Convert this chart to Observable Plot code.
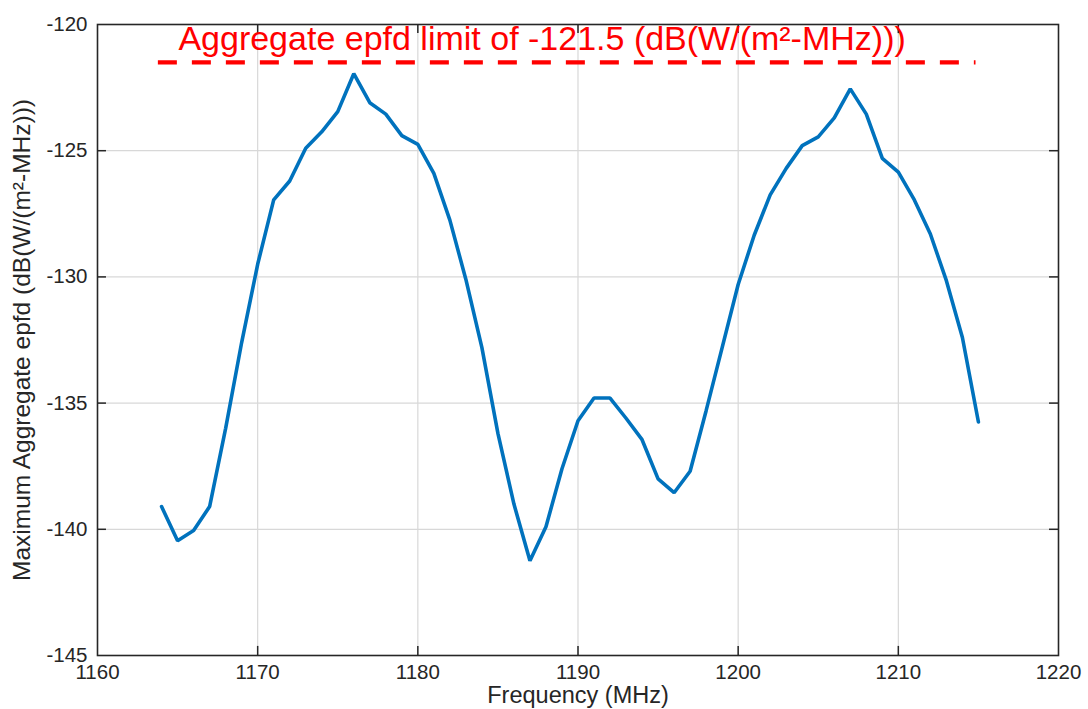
<!DOCTYPE html>
<html>
<head>
<meta charset="utf-8">
<script src="https://cdn.jsdelivr.net/npm/d3@7"></script>
<script src="https://cdn.jsdelivr.net/npm/@observablehq/plot@0.6"></script>
<style>
  html, body { margin: 0; padding: 0; background: #fff; }
  #chart svg { display: block; }
</style>
</head>
<body>
<div id="chart"></div>
<script>
// Frequencies (MHz)
const freqs = [1164, 1165, 1166, 1167, 1168, 1169, 1170, 1171, 1172, 1173, 1174, 1175, 1176, 1177, 1178, 1179,
  1180, 1181, 1182, 1183, 1184, 1185, 1186, 1187, 1188, 1189, 1190, 1191, 1192, 1193, 1194, 1195,
  1196, 1197, 1198, 1199, 1200, 1201, 1202, 1203, 1204, 1205, 1206, 1207, 1208, 1209, 1210, 1211,
  1212, 1213, 1214, 1215];
// Maximum aggregate epfd (dB(W/(m2-MHz)))
const epfd = [-139.1, -140.45, -140.05, -139.1, -136.0, -132.6, -129.5, -126.95, -126.2, -124.9, -124.25, -123.45, -121.95, -123.1, -123.55, -124.4,
  -124.75, -125.9, -127.75, -130.1, -132.8, -136.2, -139.0, -141.25, -139.9, -137.6, -135.7, -134.8, -134.8, -135.6, -136.45, -138.0,
  -138.55, -137.7, -135.3, -132.8, -130.3, -128.35, -126.75, -125.7, -124.8, -124.45, -123.7, -122.55, -123.55, -125.3, -125.85, -126.95,
  -128.3, -130.15, -132.4, -135.75];
const limitValue = -121.5;
const limitRange = [1163.8, 1214.85];
const limitLabel = "Aggregate epfd limit of -121.5 (dB(W/(m²-MHz)))";
const xTicks = [1160, 1170, 1180, 1190, 1200, 1210, 1220];
const yTicks = [-145, -140, -135, -130, -125, -120];
const xLabel = "Frequency (MHz)";
const yLabel = "Maximum Aggregate epfd (dB(W/(m²-MHz)))";

const data = freqs.map((f, i) => ({f, v: epfd[i]}));
const innerX = xTicks.slice(1, -1);
const innerY = yTicks.slice(1, -1);
const ink = "#262626";
const tickLenX = 0.56;   // in MHz (≈9px)
const tickLenY = 0.36;   // in dB (≈9px)

const chart = Plot.plot({
  width: 1088,
  height: 709,
  marginLeft: 97,
  marginRight: 30,
  marginTop: 24,
  marginBottom: 54,
  style: {fontFamily: "'Liberation Sans', Arial, Helvetica, sans-serif", background: "#fff", color: ink},
  x: {domain: [1160, 1220]},
  y: {domain: [-145, -120]},
  marks: [
    Plot.gridX(innerX, {stroke: "#d8d8d8", strokeOpacity: 1, strokeWidth: 1.2}),
    Plot.gridY(innerY, {stroke: "#d8d8d8", strokeOpacity: 1, strokeWidth: 1.2}),
    // inward ticks on all four sides
    Plot.ruleX(innerX, {y1: -145, y2: -145 + tickLenY, stroke: ink, strokeWidth: 1.5}),
    Plot.ruleX(innerX, {y1: -120, y2: -120 - tickLenY, stroke: ink, strokeWidth: 1.5}),
    Plot.ruleY(innerY, {x1: 1160, x2: 1160 + tickLenX, stroke: ink, strokeWidth: 1.5}),
    Plot.ruleY(innerY, {x1: 1220, x2: 1220 - tickLenX, stroke: ink, strokeWidth: 1.5}),
    Plot.axisX(xTicks, {tickSize: 0, tickPadding: 9, fontSize: 20.5, label: null, tickFormat: d => String(d), fill: ink}),
    Plot.axisY(yTicks, {tickSize: 0, tickPadding: 10, fontSize: 20.5, label: null, tickFormat: d => String(d), fill: ink}),
    Plot.text([xLabel], {frameAnchor: "bottom", dy: 40, textAnchor: "middle", lineAnchor: "middle", text: d => d, fontSize: 23.5, fill: ink}),
    Plot.text([yLabel], {frameAnchor: "left", dx: -75, rotate: -90, textAnchor: "middle", lineAnchor: "middle", text: d => d, fontSize: 24.5, fill: ink}),
    Plot.line(data, {x: "f", y: "v", stroke: "#0072BD", strokeWidth: 3.6, strokeLinejoin: "miter"}),
    Plot.ruleY([limitValue], {x1: limitRange[0], x2: limitRange[1], stroke: "#ff0000", strokeWidth: 4.2, strokeDasharray: "19,15"}),
    Plot.text([limitLabel], {x: 1165.05, y: -121.03, text: d => d, textAnchor: "start", lineAnchor: "bottom", fontSize: 34, fill: "#ff0000"}),
    Plot.frame({stroke: ink, strokeWidth: 1.6})
  ]
});
document.getElementById("chart").appendChild(chart);
</script>
</body>
</html>
